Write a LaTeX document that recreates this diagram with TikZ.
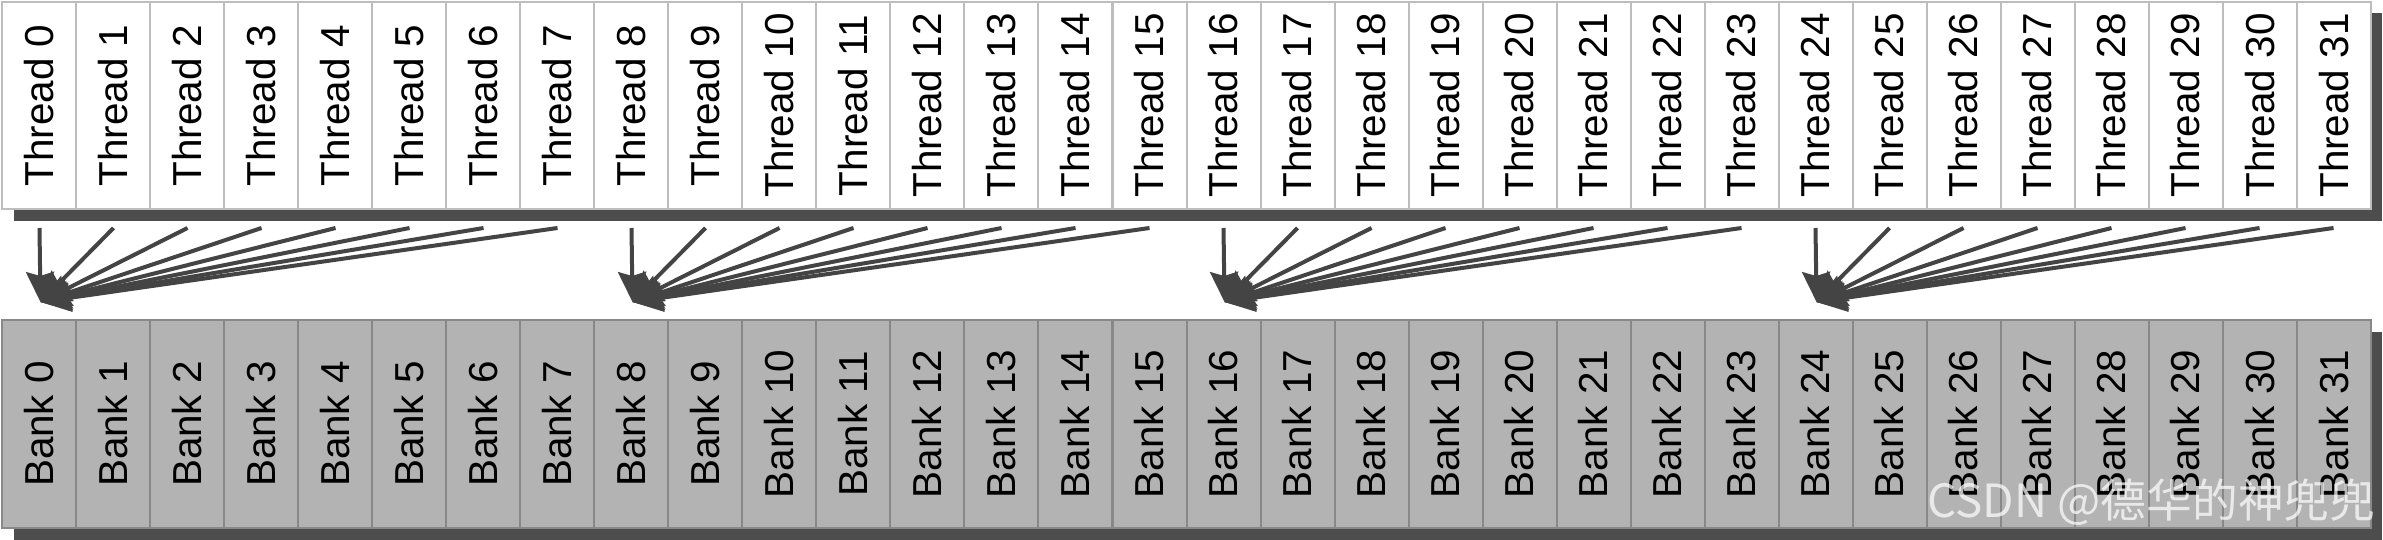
\documentclass[tikz,border=0pt]{standalone}
\usepackage{fontspec}
\setmainfont{Liberation Sans}
\newfontfamily\cjk{Noto Sans CJK SC}
\usetikzlibrary{arrows.meta,calc}
\definecolor{shadowc}{HTML}{4D4D4D}
\definecolor{tborder}{HTML}{BDBDBD}
\definecolor{bfill}{HTML}{B3B3B3}
\definecolor{bborder}{HTML}{888888}
\definecolor{arrc}{HTML}{444444}
\begin{document}
\begin{tikzpicture}[x=0.01cm,y=-0.01cm,
  cell/.style={draw, line width=0.02cm, minimum width=0.74cm, minimum height=2.07cm, inner sep=0pt,
    font=\fontsize{11.5}{13}\selectfont},
  threadbox/.style={cell, draw=tborder, fill=white},
  bankbox/.style={cell, draw=bborder, fill=bfill},
  shadowbox/.style={fill=shadowc},
  arr/.style={draw=arrc, line width=0.04cm, -{Stealth[length=0.3cm, width=0.28cm, inset=0.04cm]}},
  wm/.style={text=white, opacity=0.72, font=\cjk\fontsize{13}{15}\selectfont, inner sep=0pt}
]
\fill[white] (0,0) rectangle (2383,540);
\useasboundingbox (0,0) rectangle (2383,540);
% shadows
\fill[shadowbox] (13.5,13) rectangle (2382,221);
\fill[shadowbox] (13.5,332) rectangle (2382,540);
% threads and banks
\foreach \i in {0,...,31}{
  \node[threadbox] (t\i) at ({39.5+74*\i},105.5) {\rotatebox{90}{Thread \i}};
  \node[bankbox] (b\i) at ({39.5+74*\i},424) {\rotatebox{90}{Bank \i}};
}
% arrows
\foreach \g in {0,...,3}{
  \pgfmathtruncatemacro{\first}{8*\g}
  \coordinate (e\g) at ($(t\first.center)+(1,196.5)$);
  \foreach \j in {7,6,...,0}{
    \pgfmathtruncatemacro{\k}{8*\g+\j}
    \coordinate (s\k) at ($(t\k.center)+(0,122.5)$);
    \draw[arr] (s\k) -- (e\g);
  }
}
% watermark
\node[wm, anchor=west] (wmark) at (1927,502) {CSDN @德华的神兜兜};
\end{tikzpicture}
\end{document}
